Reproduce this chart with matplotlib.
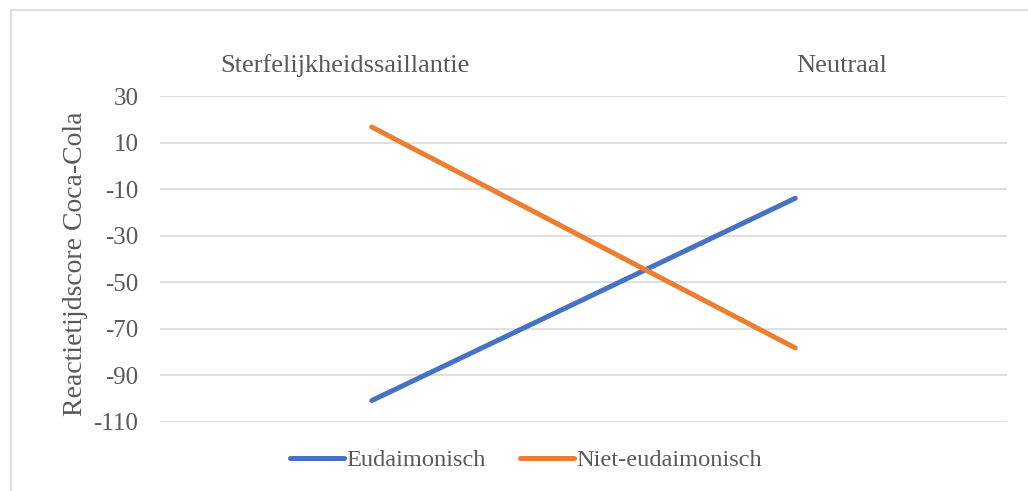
import matplotlib
matplotlib.use("Agg")
import matplotlib.pyplot as plt
from matplotlib.patches import Rectangle

# condities en gemiddelde reactietijdscores
condities = ["Sterfelijkheidssaillantie", "Neutraal"]
eudaimonisch = [-100.8, -13.9]
niet_eudaimonisch = [16.7, -78.2]
y_ticks = [30, 10, -10, -30, -50, -70, -90, -110]

tekst = "#595959"
raster = "#d9d9d9"
plt.rcParams["font.family"] = ["Liberation Serif", "DejaVu Serif"]

fig = plt.figure(figsize=(10.28, 4.91), dpi=100)
fig.patches.append(Rectangle((11 / 1028, -0.1), 1.2, 1 - 10 / 491 + 0.1,
                             transform=fig.transFigure, fill=False,
                             edgecolor=raster, linewidth=1.2))

ax = fig.add_axes([160 / 1028, 1 - 422 / 491, 847 / 1028, 326 / 491])
x = range(len(condities))
ax.plot(x, eudaimonisch, color="#4472c4", lw=3.6, solid_capstyle="round",
        label="Eudaimonisch")
ax.plot(x, niet_eudaimonisch, color="#ed7d31", lw=3.6, solid_capstyle="round",
        label="Niet-eudaimonisch")

ax.set_xlim(-0.5, len(condities) - 0.5)
ax.set_ylim(min(y_ticks), max(y_ticks))
ax.set_yticks(y_ticks)
ax.set_yticklabels([str(v) for v in y_ticks])
ax.set_xticks([])
ax.tick_params(axis="y", length=0, pad=15.5, labelsize=18, labelcolor=tekst)
ax.grid(axis="y", color=raster, lw=1.2)
ax.set_axisbelow(True)
for s in ax.spines.values():
    s.set_visible(False)

ax.set_ylabel("Reactietijdscore Coca-Cola", fontsize=20, color=tekst)
ax.yaxis.set_label_coords(-0.085, 0.485)

# categorielabels boven de grafiek
offsets = [-26.75, 46.75]
for i, (naam, dx) in enumerate(zip(condities, offsets)):
    ax.annotate(naam, xy=(i, 1), xycoords=("data", "axes fraction"),
                xytext=(dx * 0.72, 17.5), textcoords="offset points",
                ha="center", va="baseline", fontsize=19, color=tekst)

leg = ax.legend(loc="center", bbox_to_anchor=(0.432, -0.117), ncol=2,
                frameon=False, fontsize=17.6, handlelength=2.2,
                handletextpad=0.1, columnspacing=1.4)
for t in leg.get_texts():
    t.set_color(tekst)

fig.savefig("out.png", dpi=100)
